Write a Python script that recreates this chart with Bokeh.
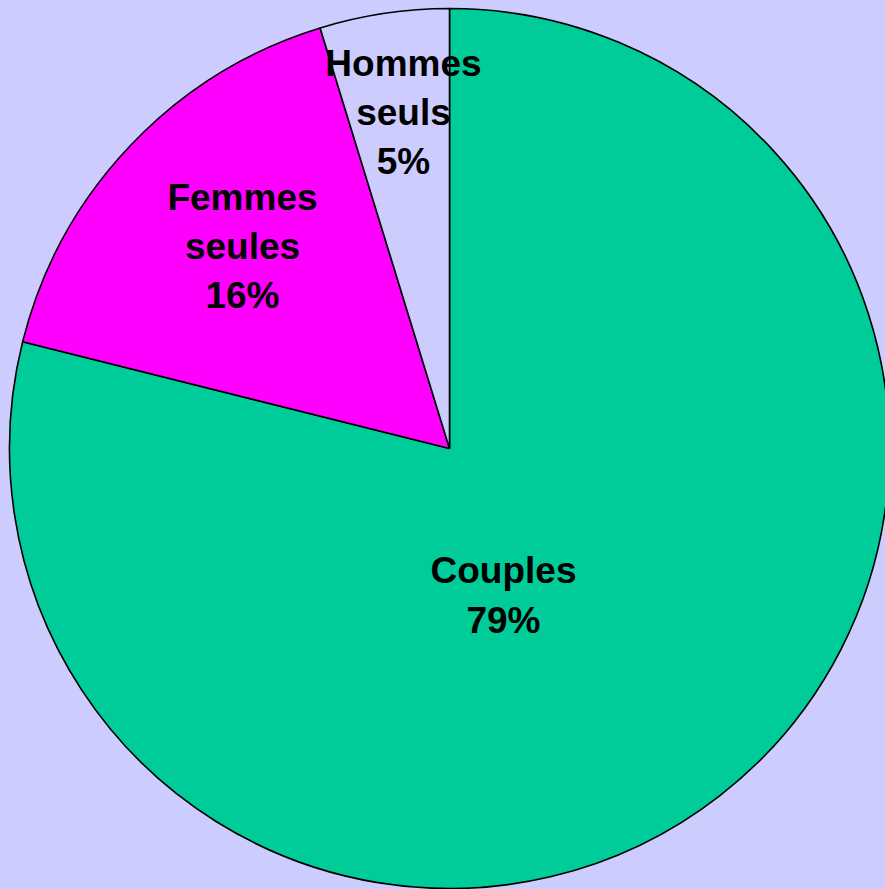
import math
from bokeh.plotting import figure
from bokeh.models import ColumnDataSource, Range1d
from bokeh.embed import file_html
from bokeh.resources import INLINE
from bokeh.core.properties import value

categories = ["Couples", "Femmes\nseules", "Hommes\nseuls"]
shares = [78.9, 16.35, 4.75]
colors = ["#00CC99", "#FF00FF", "#CCCCFF"]

# label offsets from pie centre (pixels), style only
label_dx = [54, -207, -46]
label_dy = [-147, 202, 336]

W, H = 885, 889
cx, cy, r = 449, 441, 440

total = sum(shares)
starts, ends = [], []
a = math.pi / 2
for s in shares:
    starts.append(a)
    a -= s / total * 2 * math.pi
    ends.append(a)

src = ColumnDataSource(dict(
    start=starts, end=ends, color=colors,
    x=[cx] * 3, y=[cy] * 3,
))

p = figure(width=W, height=H, output_backend="svg", toolbar_location=None,
           x_range=Range1d(0, W), y_range=Range1d(0, H), min_border=0,
           background_fill_color="#CCCCFF", border_fill_color="#CCCCFF",
           outline_line_color=None)
p.axis.visible = False
p.grid.visible = False

p.wedge(x="x", y="y", radius=r, start_angle="start", end_angle="end",
        direction="clock", fill_color="color", line_color="black",
        line_width=1.6, source=src)

labels = [f"{c}\n{round(s / total * 100)}%" for c, s in zip(categories, shares)]
p.text(x=[cx + d for d in label_dx], y=[cy + d for d in label_dy], text=labels,
       text_font=value("Liberation Sans"), text_font_style="bold",
       text_font_size="37px", text_align="center", text_baseline="middle",
       text_line_height=1.2, text_color="black")

html = file_html(p, INLINE)
html = html.replace("</head>", "<style>body{background:#CCCCFF;}</style></head>", 1)
open("out.html", "w").write(html)
